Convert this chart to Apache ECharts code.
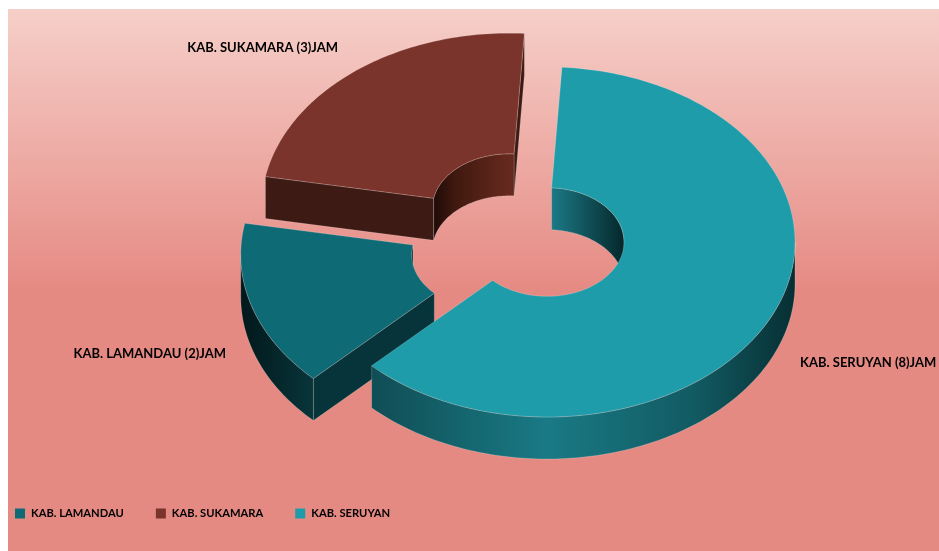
<!DOCTYPE html>
<html>
<head>
<meta charset="utf-8">
<style>html,body{margin:0;padding:0;background:#fff;overflow:hidden}#c{width:939px;height:551px}</style>
<script src="https://cdn.jsdelivr.net/npm/echarts@6/dist/echarts.min.js"></script>
</head>
<body>
<div id="c"></div>
<script>
const categories = ['KAB. LAMANDAU', 'KAB. SUKAMARA', 'KAB. SERUYAN'];
const values = [2, 3, 8];
const unitSuffix = 'JAM';

const topColors = ['#0e6a74', '#7b342b', '#1f9ca9'];
const outerWallStops = [
  ['#02181b', '#08363b', '#0f5a62', '#0a3c41', '#02181b'],
  ['#1c0a07', '#3d1a14', '#5a261e', '#3d1a14', '#1c0a07'],
  ['#05282c', '#104e55', '#197a85', '#125a62', '#072f33']
];
const innerWallStops = [
  ['#02181b', '#0a4046', '#0f5a62', '#0a4046', '#02181b'],
  ['#1d0b08', '#40190f', '#66291f', '#40190f', '#1d0b08'],
  ['#05282c', '#0f545b', '#1c7f8b', '#0f4a51', '#04282c']
];
const wallOffsets = [0, 0.15, 0.5, 0.8, 1];
const radialWallColors = ['#07343a', '#3e1a14', '#104e55'];
const drawOrder = [3, 2, 4];
const labelAnchors = [
  { x: 226, y: 354, align: 'right' },
  { x: 338, y: 48, align: 'right' },
  { x: 800, y: 363, align: 'left' }
];
const geom = { cx: 547, cy: 242, rOuter: 248, rInner: 77, k: 0.7056, depth: 42, pull: 61, startDeg: 225 };
const pulled = [true, true, false];
const FONT = 'bold 13px Lato, "Open Sans", sans-serif';
const EDGE = 'rgba(255,255,255,0.28)';

const total = values.reduce((a, b) => a + b, 0);

function sliceAngles(i) {
  let before = 0;
  for (let j = 0; j < i; j++) before += values[j];
  const a0 = geom.startDeg + before / total * 360;
  return [a0, a0 + values[i] / total * 360];
}
function pt(c, r, deg, drop) {
  const t = deg * Math.PI / 180;
  return [c[0] + r * Math.sin(t), c[1] - r * geom.k * Math.cos(t) + (drop || 0)];
}
function arc(c, r, a0, a1, drop) {
  const out = [];
  const n = Math.max(2, Math.ceil(Math.abs(a1 - a0)));
  for (let s = 0; s <= n; s++) out.push(pt(c, r, a0 + (a1 - a0) * s / n, drop));
  return out;
}
function poly(points, fill, z2) {
  return { type: 'polygon', z2: z2, shape: { points: points },
    style: { fill: fill, stroke: EDGE, lineWidth: 0.7 } };
}
function grad(c, r, stops) {
  return new echarts.graphic.LinearGradient(c[0] - r, 0, c[0] + r, 0,
    wallOffsets.map((o, idx) => ({ offset: o, color: stops[idx] })), true);
}
function clipRange(a0, a1, lo, hi) {
  const res = [];
  for (let shift = -720; shift <= 720; shift += 360) {
    const s = Math.max(a0, lo + shift), e = Math.min(a1, hi + shift);
    if (e > s) res.push([s, e]);
  }
  return res;
}

function renderSlice(i) {
  return function (params, api) {
    const val = api.value(0);
    const [a0, a1] = sliceAngles(i);
    const mid = (a0 + a1) / 2 * Math.PI / 180;
    const p = pulled[i] ? geom.pull : 0;
    const c = [geom.cx + p * Math.sin(mid), geom.cy - p * geom.k * Math.cos(mid)];
    const d = geom.depth, R = geom.rOuter, r = geom.rInner;
    const kids = [];
    // radial faces that turn towards the viewer
    if (Math.sin(a0 * Math.PI / 180) < 0) {
      kids.push(poly([pt(c, R, a0), pt(c, r, a0), pt(c, r, a0, d), pt(c, R, a0, d)], radialWallColors[i], 1));
    }
    if (Math.sin(a1 * Math.PI / 180) > 0) {
      kids.push(poly([pt(c, R, a1), pt(c, r, a1), pt(c, r, a1, d), pt(c, R, a1, d)], radialWallColors[i], 1));
    }
    // inner wall (far half)
    clipRange(a0, a1, -90, 90).forEach(([s, e]) => {
      kids.push(poly(arc(c, r, s, e).concat(arc(c, r, e, s, d)), grad(c, r, innerWallStops[i]), 2));
    });
    // outer wall (near half)
    clipRange(a0, a1, 90, 270).forEach(([s, e]) => {
      kids.push(poly(arc(c, R, s, e).concat(arc(c, R, e, s, d)), grad(c, R, outerWallStops[i]), 2));
    });
    // top face
    kids.push(poly(arc(c, R, a0, a1).concat(arc(c, r, a1, a0)), topColors[i], 3));
    // label
    const la = labelAnchors[i];
    kids.push({ type: 'text', z2: 4, style: {
      x: la.x, y: la.y, text: categories[i] + ' (' + val + ')' + unitSuffix,
      fill: '#000', font: FONT, align: la.align, verticalAlign: 'middle' } });
    return { type: 'group', children: kids };
  };
}

const chart = echarts.init(document.getElementById('c'), null, { renderer: 'canvas' });
chart.setOption({
  animation: false,
  backgroundColor: '#ffffff',
  graphic: [{
    type: 'rect', z: -10, silent: true,
    shape: { x: 8, y: 9, width: 931, height: 542 },
    style: { fill: new echarts.graphic.LinearGradient(0, 0, 0, 1, [
      { offset: 0, color: '#f6cfc9' },
      { offset: 0.52, color: '#e58a83' },
      { offset: 1, color: '#e58a83' }
    ]) }
  }],
  legend: {
    left: 15, top: 508, orient: 'horizontal', padding: 0,
    icon: 'rect', itemWidth: 10, itemHeight: 10, itemGap: 32,
    data: categories,
    textStyle: { color: '#000', fontFamily: 'Lato, "Open Sans", sans-serif', fontWeight: 'bold', fontSize: 11.2, padding: [0, 0, 0, 1] }
  },
  series: categories.map((name, i) => ({
    type: 'custom',
    name: name,
    coordinateSystem: 'none',
    z: drawOrder[i],
    silent: true,
    itemStyle: { color: topColors[i] },
    data: [[values[i]]],
    renderItem: renderSlice(i)
  }))
});
</script>
</body>
</html>
